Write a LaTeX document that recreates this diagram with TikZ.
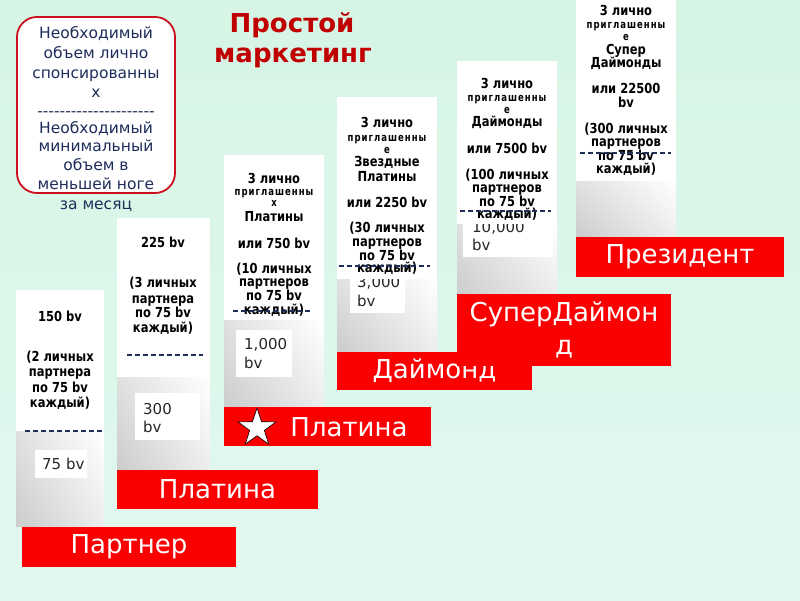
\documentclass[tikz,border=0pt]{standalone}
\usepackage{graphicx}
\usepackage{fontspec}
\setmainfont{DejaVu Sans}
\newfontfamily\dv{DejaVu Sans}
\newfontfamily\dvs[LetterSpace=12]{DejaVu Sans}
\usetikzlibrary{shapes.geometric,shadings}
\definecolor{bgtop}{RGB}{214,245,229}
\definecolor{bgmid}{RGB}{243,252,249}
\definecolor{bgbot}{RGB}{226,248,239}
\definecolor{navy}{RGB}{30,45,90}
\definecolor{titlered}{RGB}{192,0,0}
\definecolor{boxred}{RGB}{200,16,30}
\definecolor{bannerred}{RGB}{250,0,0}
\begin{document}
\begin{tikzpicture}[x=1pt,y=-1pt,
  ct/.style={font=\dv\bfseries\fontsize{11.5}{13}\selectfont, text=black, inner sep=0pt, text height=9pt, text depth=2pt, /utils/exec=\def\vsc{1.2}},
  cs/.style={font=\dvs\bfseries\fontsize{8.5}{10}\selectfont, text=black, inner sep=0pt, text height=6.5pt, text depth=1.5pt, /utils/exec=\def\vsc{1.3}},
  lt/.style={font=\dv\fontsize{15.5}{19}\selectfont, text=navy, inner sep=0pt, text height=11pt, text depth=3.5pt},
  lbl/.style={font=\dv\fontsize{15}{18}\selectfont, text=black!85, inner sep=0pt, anchor=west, text height=11pt, text depth=3pt},
  grad/.style={upper left=black!12, lower left=black!20, upper right=white, lower right=black!7},
  dline/.style={draw=navy, line width=1.6pt, dash pattern=on 5pt off 3pt},
  banner/.style={fill=bannerred, draw=none, inner sep=0pt, font=\dv\fontsize{26}{33}\selectfont, text=white},
  btxt/.style={font=\dv\fontsize{26}{33}\selectfont, text=white, inner sep=0pt}
]
\useasboundingbox (0,0) rectangle (800,600);
\shade[top color=bgtop, middle color=bgmid, bottom color=bgbot] (0,0) rectangle (800,600);

% left rounded box
\draw[boxred, line width=1.8pt, fill=white, rounded corners=20pt] (17,17) rectangle (175,193);
\foreach \yy/\txt [count=\i] in {35/Необходимый, 55/объем лично, 75/спонсированны, 94/х, 113/---------------------, 130/Необходимый, 148/минимальный, 167/объем в, 186/меньшей ноге, 206/за месяц}
  \node[lt] (l-\i) at (96,\yy) {\txt};

% title
\node[font=\dv\bfseries\fontsize{26}{31}\selectfont, text=titlered, anchor=base, inner sep=0pt] (t1) at (292,32) {Простой};
\node[font=\dv\bfseries\fontsize{26}{31}\selectfont, text=titlered, anchor=base, inner sep=0pt] (t2) at (293,62) {маркетинг};

% ---------- column 1
\shade[grad] (16,431) rectangle (104,526);
\fill[white] (35,450) rectangle (87,478);
\node[lbl] (v1) at (42,465) {75 bv};
\fill[white] (16,290) rectangle (104,431);
\foreach \yy/\txt/\sty [count=\i] in {318/{150 bv}/ct, 358/{(2 личных}/ct, 373/{партнера}/ct, 389/{по 75 bv}/ct, 404/{каждый)}/ct}
  \node[\sty] (c1-\i) at (60,\yy) {\scalebox{1}[\vsc]{\txt}};
\draw[dline] (25,431) -- (102,431);

% ---------- column 2
\shade[grad] (117,377) rectangle (210,470);
\fill[white] (135,393) rectangle (200,440);
\node[lbl] (v2a) at (143,410) {300};
\node[lbl] (v2b) at (143,428) {bv};
\fill[white] (117,218) rectangle (210,377);
\foreach \yy/\txt/\sty [count=\i] in {244/{225 bv}/ct, 284/{(3 личных}/ct, 300/{партнера}/ct, 314/{по 75 bv}/ct, 329/{каждый)}/ct}
  \node[\sty] (c2-\i) at (163,\yy) {\scalebox{1}[\vsc]{\txt}};
\draw[dline] (127,355) -- (203,355);

% ---------- column 3
\shade[grad] (224,320) rectangle (324,407);
\fill[white] (236,330) rectangle (292,377);
\node[lbl] (v3a) at (244,345) {1,000};
\node[lbl] (v3b) at (244,364) {bv};
\fill[white] (224,155) rectangle (324,320);
\foreach \yy/\txt/\sty [count=\i] in {180/{3 лично}/ct, 193/{приглашенны}/cs, 204/{х}/cs, 218/{Платины}/ct, 245/{или 750 bv}/ct, 270/{(10 личных}/ct, 283/{партнеров}/ct, 297/{по 75 bv}/ct, 311/{каждый)}/ct}
  \node[\sty] (c3-\i) at (274,\yy) {\scalebox{1}[\vsc]{\txt}};
\draw[dline] (233,311) -- (311,311);

% ---------- column 4
\shade[grad] (337,279) rectangle (437,352);
\fill[white] (350,262) rectangle (405,313);
\node[lbl] (v4a) at (357,283) {3,000};
\node[lbl] (v4b) at (357,302) {bv};
\fill[white] (337,97) rectangle (437,279);
\foreach \yy/\txt/\sty [count=\i] in {124/{3 лично}/ct, 139/{приглашенны}/cs, 151/{е}/cs, 163/{Звездные}/ct, 178/{Платины}/ct, 204/{или 2250 bv}/ct, 229/{(30 личных}/ct, 243/{партнеров}/ct, 257/{по 75 bv}/ct, 269/{каждый)}/ct}
  \node[\sty] (c4-\i) at (387,\yy) {\scalebox{1}[\vsc]{\txt}};
\draw[dline] (339,266) -- (430,266);

% ---------- column 5
\shade[grad] (457,222) rectangle (557,294);
\fill[white] (463,205) rectangle (553,257);
\node[lbl] (v5a) at (472,228) {10,000};
\node[lbl] (v5b) at (472,246) {bv};
\fill[white] (457,61) rectangle (557,224);
\foreach \yy/\txt/\sty [count=\i] in {85/{3 лично}/ct, 99/{приглашенны}/cs, 111/{е}/cs, 123/{Даймонды}/ct, 150/{или 7500 bv}/ct, 176/{(100 личных}/ct, 189/{партнеров}/ct, 203/{по 75 bv}/ct, 215/{каждый)}/ct}
  \node[\sty] (c5-\i) at (507,\yy) {\scalebox{1}[\vsc]{\txt}};
\draw[dline] (460,211) -- (551,211);

% ---------- column 6
\shade[grad] (576,181) rectangle (676,237);
\fill[white] (576,0) rectangle (676,181);
\foreach \yy/\txt/\sty [count=\i] in {12/{3 лично}/ct, 26/{приглашенны}/cs, 38/{е}/cs, 51/{Супер}/ct, 64/{Даймонды}/ct, 90/{или 22500}/ct, 104/{bv}/ct, 130/{(300 личных}/ct, 143/{партнеров}/ct, 157/{по 75 bv}/ct, 170/{каждый)}/ct}
  \node[\sty] (c6-\i) at (626,\yy) {\scalebox{1}[\vsc]{\txt}};
\draw[dline] (580,153) -- (671,153);

% ---------- banners
\node[banner, minimum width=214pt, minimum height=40pt] (b1) at (129,547) {Партнер};
\node[banner, minimum width=201pt, minimum height=39pt] (b2) at (217.5,489.5) {Платина};
\node[banner, minimum width=207pt, minimum height=39pt] (b3) at (327.5,426.5) {};
\node[star, star points=5, star point ratio=2.6, minimum size=40pt, inner sep=0pt, fill=white, draw=black, line width=0.6pt] (st) at (257,428) {};
\node[btxt] (b3t) at (349,427) {Платина};
\node[banner, minimum width=195pt, minimum height=38pt] (b4) at (434.5,371) {Даймонд};
\node[banner, minimum width=214pt, minimum height=72pt, align=center] (b5) at (564,330) {СуперДаймон\\д};
\node[banner, minimum width=208pt, minimum height=40pt] (b6) at (680,257) {Президент};
\end{tikzpicture}
\end{document}
